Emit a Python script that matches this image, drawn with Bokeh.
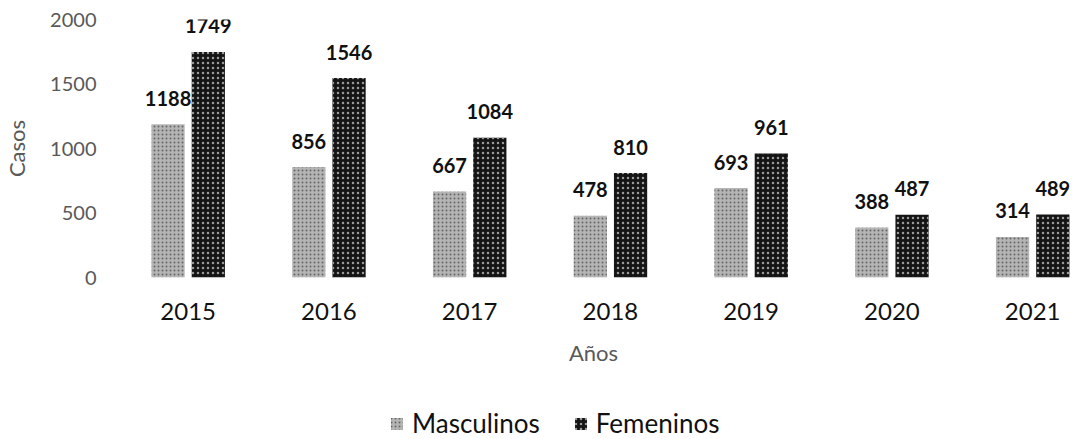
from bokeh.plotting import figure
from bokeh.models import (ColumnDataSource, Range1d, FixedTicker, LabelSet,
                          Legend, LegendItem)
from bokeh.layouts import column
from bokeh.core.properties import value
from bokeh.embed import file_html
from bokeh.resources import INLINE

# ---- data ----
years = [2015, 2016, 2017, 2018, 2019, 2020, 2021]
year_labels = ["2015", "2016", "2017", "2018", "2019", "2020", "2021"]
masculinos = [1188, 856, 667, 478, 693, 388, 314]
femeninos = [1749, 1546, 1084, 810, 961, 487, 489]
y_ticks = [0, 500, 1000, 1500, 2000]
series_names = ["Masculinos", "Femeninos"]

FONT = "Lato"
OFF = 0.143
W = 0.236
MALE_STYLE = dict(fill_color="#b4b4b4", line_color=None, hatch_pattern="dot",
                  hatch_color="#666666", hatch_scale=4, hatch_weight=1)
FEM_STYLE = dict(fill_color="#141414", line_color=None, hatch_pattern="dot",
                 hatch_color="#9a9a9a", hatch_scale=5, hatch_weight=1)

src_m = ColumnDataSource(dict(x=[y - OFF for y in years], top=masculinos,
                              lab=[str(v) for v in masculinos]))
src_f = ColumnDataSource(dict(x=[y + OFF for y in years], top=femeninos,
                              lab=[str(v) for v in femeninos]))

p = figure(width=1072, height=393, output_backend="svg", toolbar_location=None,
           x_range=Range1d(2014.4764, 2021.283), y_range=Range1d(0, 2000),
           min_border_left=110, min_border_right=0, min_border_top=19,
           min_border_bottom=116)
p.outline_line_color = None
p.xgrid.visible = False
p.ygrid.visible = False
p.background_fill_color = "white"
p.border_fill_color = "white"

p.vbar(x="x", top="top", width=W, source=src_m, **MALE_STYLE)
p.vbar(x="x", top="top", width=W, source=src_f, **FEM_STYLE)

for s in (src_m, src_f):
    p.add_layout(LabelSet(x="x", y="top", text="lab", source=s, y_offset=26,
                          text_align="center", text_baseline="middle",
                          text_font=value(FONT), text_font_size=value("20px"),
                          text_font_style="bold", text_color="#111111"))

# y axis
ya = p.yaxis[0]
ya.ticker = FixedTicker(ticks=y_ticks)
ya.axis_line_color = None
ya.major_tick_line_color = None
ya.minor_tick_line_color = None
ya.major_tick_out = 0
ya.major_tick_in = 0
ya.major_label_standoff = 18
ya.major_label_text_font = FONT
ya.major_label_text_font_size = "20px"
ya.major_label_text_color = "#595959"
ya.axis_label = "Casos"
ya.axis_label_text_font = FONT
ya.axis_label_text_font_size = "22px"
ya.axis_label_text_font_style = "normal"
ya.axis_label_text_color = "#595959"
ya.axis_label_standoff = 17

# x axis
xa = p.xaxis[0]
xa.ticker = FixedTicker(ticks=years)
xa.major_label_overrides = {y: l for y, l in zip(years, year_labels)}
xa.axis_line_color = None
xa.major_tick_line_color = None
xa.minor_tick_line_color = None
xa.major_tick_out = 0
xa.major_tick_in = 0
xa.major_label_standoff = 25
xa.major_label_text_font = FONT
xa.major_label_text_font_size = "24px"
xa.major_label_text_color = "#111111"
xa.axis_label = "Años"
xa.axis_label_text_font = FONT
xa.axis_label_text_font_size = "22px"
xa.axis_label_text_font_style = "normal"
xa.axis_label_text_color = "#595959"
xa.axis_label_standoff = 16

# legend strip (separate figure below the chart; its bars fall outside its range)
q = figure(width=1072, height=46, output_backend="svg", toolbar_location=None,
           x_range=Range1d(0, 1), y_range=Range1d(0, 1),
           x_axis_type=None, y_axis_type=None,
           min_border_left=0, min_border_right=0, min_border_top=0,
           min_border_bottom=0)
q.outline_line_color = None
q.xgrid.visible = False
q.ygrid.visible = False
lm = q.vbar(x="x", top="top", width=W, source=src_m, **MALE_STYLE)
lf = q.vbar(x="x", top="top", width=W, source=src_f, **FEM_STYLE)

legend = Legend(items=[LegendItem(label=series_names[0], renderers=[lm]),
                       LegendItem(label=series_names[1], renderers=[lf])],
                location=(275, 0), orientation="horizontal",
                glyph_width=15, glyph_height=15, label_standoff=8,
                spacing=33, padding=0, margin=0,
                label_text_font=FONT, label_text_font_size="26px",
                label_text_color="#111111", border_line_color=None,
                background_fill_alpha=0)
q.add_layout(legend, "center")

layout = column(p, q, spacing=0)
open("out.html", "w").write(file_html(layout, INLINE))
